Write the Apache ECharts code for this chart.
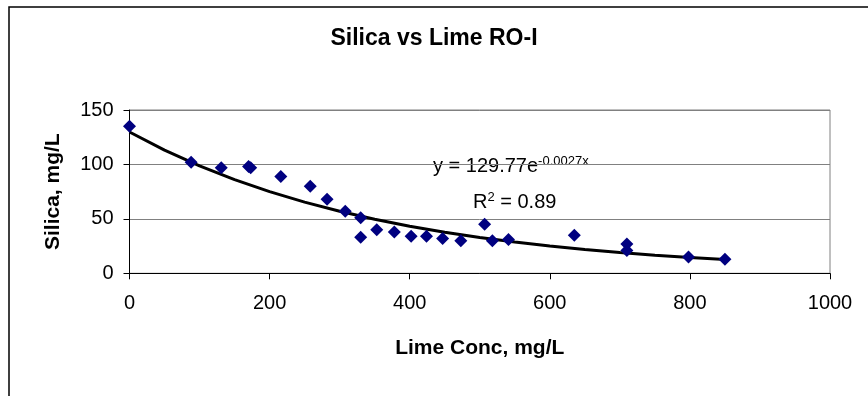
<!DOCTYPE html>
<html>
<head>
<meta charset="utf-8">
<script src="https://cdn.jsdelivr.net/npm/echarts@6/dist/echarts.min.js"></script>
<style>
html,body{margin:0;padding:0;background:#fff;}
#c{width:868px;height:396px;}
</style>
</head>
<body>
<div id="c"></div>
<script>
// Data
const limeConc = [0, 88, 131, 170, 173, 216, 258, 282, 308, 330, 330, 353, 378, 402, 424, 447, 473, 507, 518, 541, 635, 710, 710, 798, 850];
const silica   = [135, 102, 97, 98, 97, 89, 80, 68, 57, 51, 33, 40, 38, 34, 34, 32, 30, 45, 30, 31, 35, 27, 21, 15, 13];
const trendX = [0, 50, 100, 150, 200, 250, 300, 350, 400, 450, 500, 550, 600, 650, 700, 750, 800, 850];
const trendY = [129.8, 113.1, 98.6, 86.0, 75.0, 65.4, 57.0, 49.7, 43.3, 37.8, 32.9, 28.7, 25.0, 21.8, 19.0, 16.6, 14.5, 12.6];
const xTicks = [0, 200, 400, 600, 800, 1000];
const yTicks = [0, 50, 100, 150];
const titleText = 'Silica vs Lime RO-I';
const xName = 'Lime Conc, mg/L';
const yName = 'Silica, mg/L';

const FONT = '"Liberation Sans", Arial, sans-serif';
const chart = echarts.init(document.getElementById('c'), null, {renderer: 'canvas'});
const option = {
  animation: false,
  backgroundColor: '#fff',
  title: {
    text: titleText,
    left: 'center',
    top: 22,
    textStyle: {fontFamily: FONT, fontWeight: 'bold', fontSize: 23, color: '#000'}
  },
  grid: {left: 129.5, right: 38, top: 110, bottom: 122.7, show: true, borderColor: '#808080', borderWidth: 1},
  xAxis: {
    type: 'value', min: xTicks[0], max: xTicks[xTicks.length - 1], interval: 200,
    name: xName, nameLocation: 'middle', nameGap: 64,
    nameTextStyle: {fontFamily: FONT, fontWeight: 'bold', fontSize: 21, color: '#000'},
    axisLine: {show: true, lineStyle: {color: '#000', width: 1}},
    axisTick: {show: true, inside: false, length: 6, lineStyle: {color: '#000'}},
    axisLabel: {fontFamily: FONT, fontSize: 20, color: '#000', margin: 20, formatter: v => String(v)},
    splitLine: {show: false}
  },
  yAxis: {
    type: 'value', min: yTicks[0], max: yTicks[yTicks.length - 1], interval: 50,
    name: yName, nameLocation: 'middle', nameGap: 66,
    nameTextStyle: {fontFamily: FONT, fontWeight: 'bold', fontSize: 21, color: '#000'},
    axisLine: {show: true, lineStyle: {color: '#000', width: 1}},
    axisTick: {show: true, inside: false, length: 6, lineStyle: {color: '#000'}},
    axisLabel: {fontFamily: FONT, fontSize: 20, color: '#000', margin: 16, formatter: v => String(v)},
    splitLine: {show: true, lineStyle: {color: '#808080', width: 1}}
  },
  series: [
    {
      type: 'line',
      name: 'trend',
      data: trendX.map((x, i) => [x, trendY[i]]),
      showSymbol: false,
      smooth: false,
      lineStyle: {color: '#000', width: 3},
      z: 2
    },
    {
      type: 'scatter',
      name: 'Silica',
      data: limeConc.map((x, i) => [x, silica[i]]),
      symbol: 'diamond',
      symbolSize: [13, 13],
      itemStyle: {color: '#000080', opacity: 1},
      z: 3
    }
  ],
  graphic: [
    {
      type: 'rect',
      shape: {x: 9, y: 7, width: 1000, height: 1000},
      style: {fill: 'none', stroke: '#000', lineWidth: 1.5},
      silent: true
    },
    {
      type: 'text',
      left: 433, top: 155,
      style: {
        text: 'y = 129.77e{sup|-0.0027x}',
        font: '20px ' + FONT,
        fill: '#000',
        rich: {sup: {fontSize: 13, fontFamily: FONT, fill: '#000', verticalAlign: 'top', padding: [0, 0, 10, 0]}}
      }
    },
    {
      type: 'text',
      left: 473, top: 191,
      style: {
        text: 'R{sup|2} = 0.89',
        font: '20px ' + FONT,
        fill: '#000',
        rich: {sup: {fontSize: 13, fontFamily: FONT, fill: '#000', verticalAlign: 'top', padding: [0, 0, 10, 0]}}
      }
    }
  ]
};
chart.setOption(option);
</script>
</body>
</html>
